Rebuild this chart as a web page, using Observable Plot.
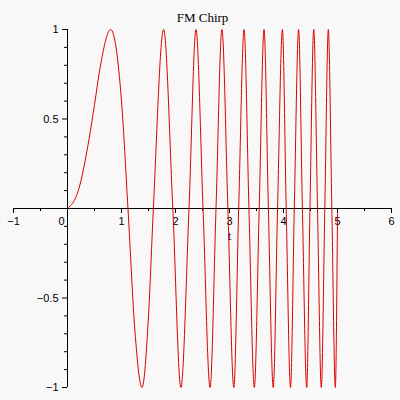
<!DOCTYPE html>
<html><head><meta charset="utf-8">
<script src="https://cdn.jsdelivr.net/npm/d3@7"></script>
<script src="https://cdn.jsdelivr.net/npm/@observablehq/plot@0.6"></script>
<style>html,body{margin:0;padding:0;background:#f8f8f8}</style>
</head><body><div id="chart"></div>
<script>
const title = "FM Chirp";
const xAxisLabel = "t";
// curve: start, extrema, zero crossings, end
const tValues = [0, 0.2, 0.4, 0.5, 0.6, 0.8, 1.0, 1.12, 1.25, 1.38, 1.5, 1.59, 1.78, 1.95, 2.10, 2.25, 2.38, 2.51, 2.64, 2.75, 2.86, 2.97, 3.08, 3.17, 3.27, 3.36, 3.46, 3.55, 3.64, 3.72, 3.81, 3.89, 3.98, 4.05, 4.13, 4.20, 4.28, 4.35, 4.43, 4.49, 4.56, 4.63, 4.70, 4.765, 4.83, 4.895, 4.96, 5.0];
const yValues = [0, 0.1, 0.39, 0.58, 0.78, 1, 0.6, 0, -0.69, -1, -0.6, 0, 1, 0, -1, 0, 1, 0, -1, 0, 1, 0, -1, 0, 1, 0, -1, 0, 1, 0, -1, 0, 1, 0, -1, 0, 1, 0, -1, 0, 1, 0, -1, 0, 1, 0, -1, -0.03];
const xDomain = [-1, 6];
const yDomain = [-1, 1];
const xMajorTicks = [-1, 0, 1, 2, 3, 4, 5, 6];
const xMinorTicks = [-0.5, 0.5, 1.5, 2.5, 3.5, 4.5, 5.5];
const xTickLabels = ["−1", "1", "2", "3", "4", "5", "6"];
const xTickLabelValues = [-1, 1, 2, 3, 4, 5, 6];
const originLabel = "0";
const yMajorTicks = [-1, -0.5, 0.5, 1];
const yMinorTicks = [-0.9, -0.8, -0.7, -0.6, -0.4, -0.3, -0.2, -0.1, 0.1, 0.2, 0.3, 0.4, 0.6, 0.7, 0.8, 0.9];
const yTickLabels = ["−1", "−0.5", "0.5", "1"];
const xLabelAt = 3;

const curve = tValues.map((t, i) => ({t, y: yValues[i]}));
const xt = xTickLabelValues.map((v, i) => ({v, s: xTickLabels[i]}));
const yt = yMajorTicks.map((v, i) => ({v, s: yTickLabels[i]}));

const chart = Plot.plot({
  width: 400,
  height: 400,
  marginLeft: 13,
  marginRight: 9,
  marginTop: 29,
  marginBottom: 13,
  x: {domain: xDomain, axis: null},
  y: {domain: yDomain, axis: null},
  style: {background: "#f8f8f8", fontFamily: "Liberation Sans", fontSize: "11px", color: "black"},
  marks: [
    Plot.ruleY([0], {x1: xDomain[0], x2: xDomain[1], stroke: "black"}),
    Plot.ruleX([0], {y1: yDomain[0], y2: yDomain[1], stroke: "black"}),
    Plot.ruleX(xMajorTicks, {x: d => d, y1: 0, y2: 0, insetBottom: -5, stroke: "black"}),
    Plot.ruleX(xMinorTicks, {x: d => d, y1: 0, y2: 0, insetBottom: -3, stroke: "black"}),
    Plot.ruleY(yMajorTicks, {y: d => d, x1: 0, x2: 0, insetLeft: -5, stroke: "black"}),
    Plot.ruleY(yMinorTicks, {y: d => d, x1: 0, x2: 0, insetLeft: -3, stroke: "black"}),
    Plot.text(xt, {x: "v", y: 0, text: "s", dy: 13, fontSize: 11, fill: "black"}),
    Plot.text([originLabel], {x: 0, y: 0, text: d => d, dy: 13, dx: -6, fontSize: 11, fill: "black"}),
    Plot.text(yt, {x: 0, y: "v", text: "s", dx: -9, textAnchor: "end", fontSize: 11, fill: "black"}),
    Plot.text([xAxisLabel], {x: xLabelAt, y: 0, text: d => d, dy: 28, fontFamily: "Liberation Serif", fontSize: 12, fill: "black"}),
    Plot.text([title], {frameAnchor: "top", text: d => d, dy: -17, fontFamily: "Liberation Serif", fontSize: 13, fill: "black"}),
    Plot.line(curve, {x: "t", y: "y", stroke: "#dd0000", strokeWidth: 1, curve: "monotone-x"})
  ]
});
document.getElementById("chart").appendChild(chart);
</script>
</body></html>
